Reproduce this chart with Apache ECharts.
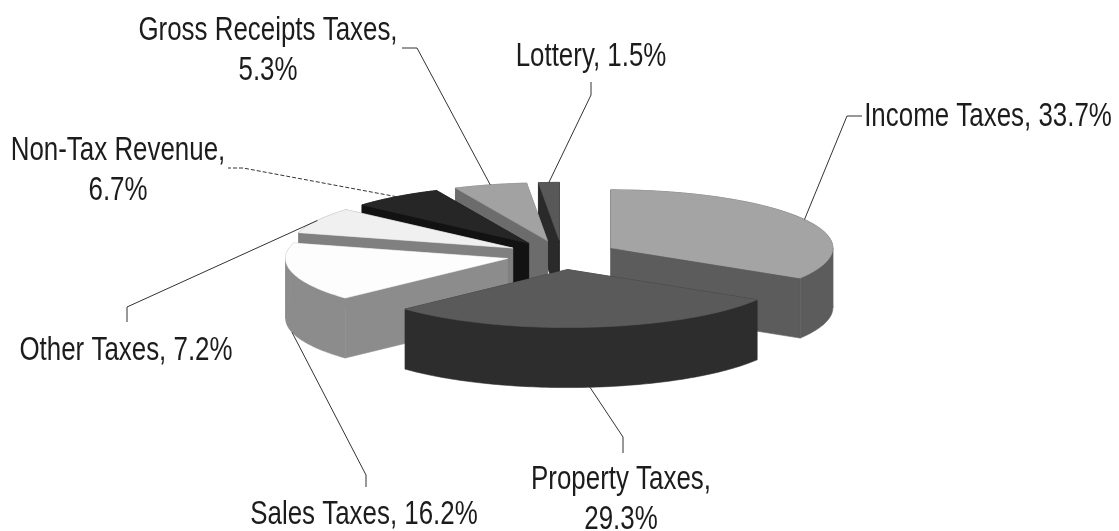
<!DOCTYPE html>
<html>
<head>
<meta charset="utf-8">
<style>html,body{margin:0;padding:0;background:#fff}#chart{width:1119px;height:531px}</style>
<script src="https://cdn.jsdelivr.net/npm/echarts@6/dist/echarts.min.js"></script>
</head>
<body>
<div id="chart"></div>
<script>
// Revenue shares, clockwise from twelve o'clock.
const categories = ['Income Taxes', 'Property Taxes', 'Sales Taxes', 'Other Taxes', 'Non-Tax Revenue', 'Gross Receipts Taxes', 'Lottery'];
const shares = [33.7, 29.3, 16.2, 7.2, 6.7, 5.3, 1.5];

// Fill colours of each wedge: top face and walls.
const topColors = ['#a4a4a4', '#5a5a5a', '#fdfdfd', '#f0f0f0', '#262626', '#a2a2a2', '#585858'];
const sideColors = ['#5c5c5c', '#2d2d2d', '#8c8c8c', '#808080', '#121212', '#6c6c6c', '#2a2a2a'];

// Projection of the exploded disc.
const pie = { cx: 562, cy: 255, rx: 222, ry: 58, depth: 60, explode: 56 };

// Label blocks and leader elbows, in wedge order.
const labelLayout = [
  { lines: ['Income Taxes, 33.7%'], x: 988, y: 117, elbow: [[847, 116], [862, 116]], floor: false },
  { lines: ['Property Taxes,', '29.3%'], x: 621, y: 480, elbow: [[623, 437], [623, 453]], floor: true },
  { lines: ['Sales Taxes, 16.2%'], x: 364, y: 515, elbow: [[366, 475], [366, 487]], floor: true },
  { lines: ['Other Taxes, 7.2%'], x: 126, y: 351, elbow: [[127, 307], [127, 322]], floor: false },
  { lines: ['Non-Tax Revenue,', '6.7%'], x: 118, y: 151, elbow: [[243, 168], [228, 168]], floor: false, dashed: true },
  { lines: ['Gross Receipts Taxes,', '5.3%'], x: 268, y: 31, elbow: [[417, 48], [402, 48]], floor: false },
  { lines: ['Lottery, 1.5%'], x: 591, y: 57, elbow: [[591, 95], [591, 82]], floor: false }
];

const FONT = '"Liberation Sans", sans-serif';
const FONT_SIZE = 33;
const TEXT_SQUEEZE = 0.785;
const LINE_GAP = 40;
const total = shares.reduce((a, b) => a + b, 0);

let running = 0;
const seriesData = shares.map((v, i) => {
  const start = running;
  running += v;
  return { value: [i, start, running] };
});

// Wedge angles in radians, clockwise from the top of the disc.
function toAngle(share) { return share / total * Math.PI * 2; }
function project(c, a, r) { return [c[0] + pie.rx * r * Math.sin(a), c[1] - pie.ry * r * Math.cos(a)]; }
function drop(p) { return [p[0], p[1] + pie.depth]; }

// Samples an arc of the disc's edge between two angles.
function sampleArc(c, from, to) {
  const steps = Math.max(4, Math.ceil((to - from) * 48));
  const pts = [];
  for (let k = 0; k <= steps; k++) pts.push(project(c, from + (to - from) * k / steps, 1));
  return pts;
}

function renderWedge(params, api) {
  const i = api.value(0);
  const a0 = toAngle(api.value(1));
  const a1 = toAngle(api.value(2));
  const mid = (a0 + a1) / 2;
  // Each wedge is pushed outward along its bisector.
  const c = [pie.cx + pie.explode * Math.sin(mid), pie.cy - pie.explode * (pie.ry / pie.rx) * Math.cos(mid)];
  const arc = sampleArc(c, a0, a1);

  const poly = (points, fill) => ({
    type: 'polygon',
    shape: { points },
    style: { fill, stroke: fill, lineWidth: 0.6 }
  });
  const side = sideColors[i];
  const children = [];
  // Walls first, then the rim, then the top face.
  children.push(poly([arc[0], c, drop(c), drop(arc[0])], side));
  children.push(poly([arc[arc.length - 1], c, drop(c), drop(arc[arc.length - 1])], side));
  // The rim is cut at the disc's left and right extremes so no strip folds over itself.
  const cuts = [a0];
  [Math.PI / 2, Math.PI * 1.5].forEach(x => { if (x > a0 && x < a1) cuts.push(x); });
  cuts.push(a1);
  for (let k = 0; k + 1 < cuts.length; k++) {
    const part = sampleArc(c, cuts[k], cuts[k + 1]);
    children.push(poly(part.concat(part.slice().reverse().map(drop)), side));
  }
  children.push(poly([c].concat(arc), topColors[i]));

  // Leader line: starts on the rim at the wedge's mid-angle.
  const layout = labelLayout[i];
  let anchor = project(c, mid, 1);
  if (layout.floor) anchor = drop(anchor);
  children.push({
    type: 'polyline',
    shape: { points: [anchor].concat(layout.elbow) },
    style: { fill: null, stroke: '#333', lineWidth: 1, lineDash: layout.dashed ? [4, 2] : null },
    z2: 20
  });
  layout.lines.forEach((line, n) => {
    children.push({
      type: 'text',
      x: layout.x,
      y: layout.y + n * LINE_GAP,
      scaleX: TEXT_SQUEEZE,
      style: { text: line, fill: '#1c1c1c', font: FONT_SIZE + 'px ' + FONT, align: 'center', verticalAlign: 'middle' },
      z2: 30
    });
  });
  return { type: 'group', children };
}

// Back wedges are painted before the front ones.
const paintOrder = [6, 5, 4, 3, 2, 0, 1];

const chart = echarts.init(document.getElementById('chart'), null, { renderer: 'canvas' });
chart.setOption({
  animation: false,
  backgroundColor: '#fff',
  series: [{
    type: 'custom',
    coordinateSystem: 'none',
    renderItem: renderWedge,
    encode: { tooltip: [2] },
    data: paintOrder.map(i => Object.assign({ name: categories[i] }, seriesData[i]))
  }]
});
</script>
</body>
</html>
